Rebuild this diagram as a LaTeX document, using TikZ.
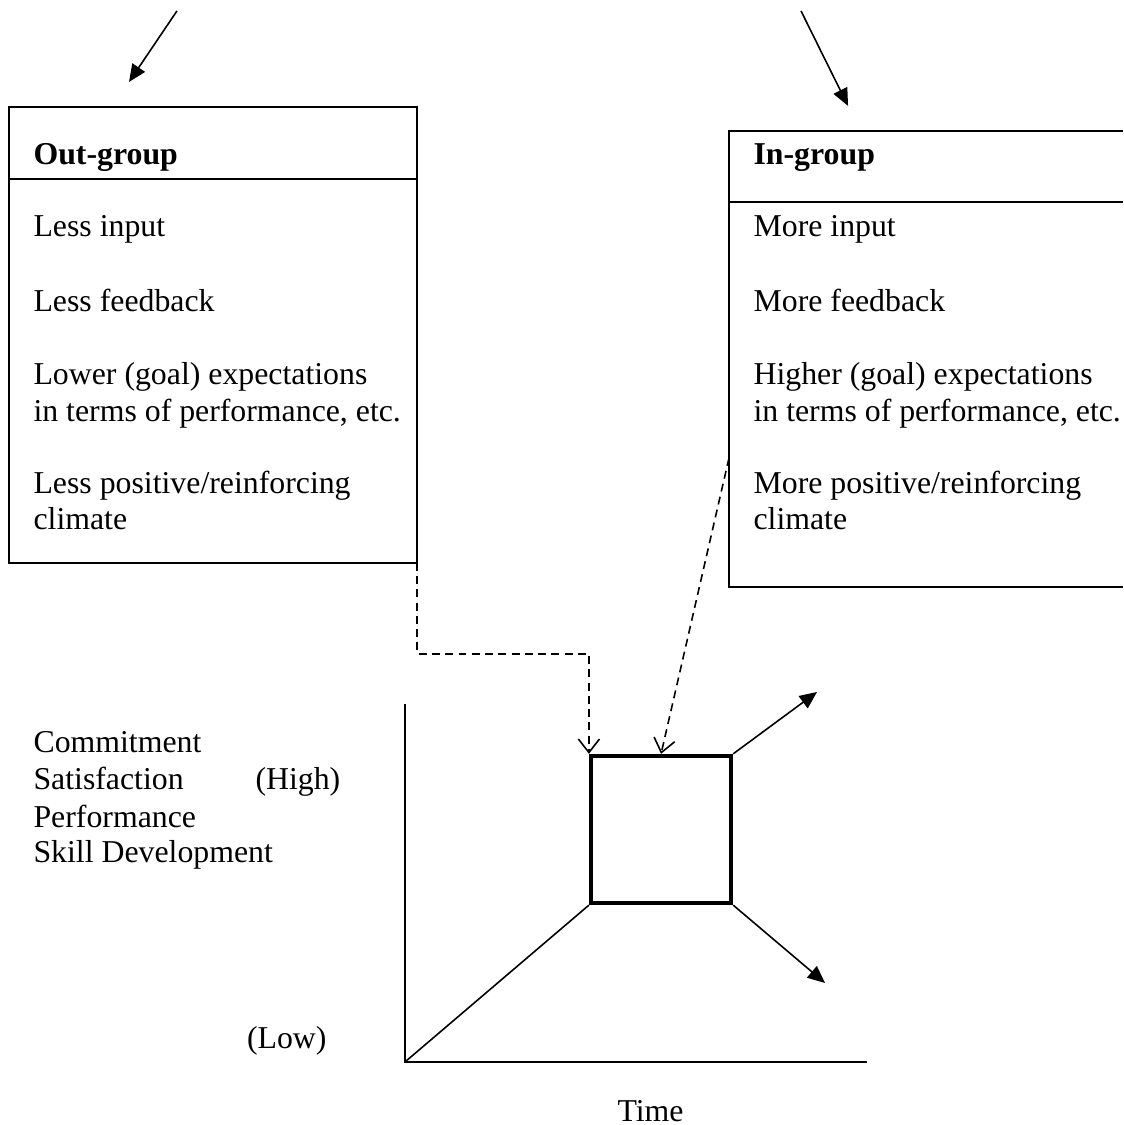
\documentclass[tikz,border=0pt]{standalone}
\usepackage{fontspec}
\setmainfont{Liberation Serif}
\usetikzlibrary{arrows.meta}
\tikzset{
	txt/.style={anchor=base west, inner sep=0pt, font=\fontsize{12pt}{14pt}\selectfont},
	hd/.style={txt, font=\fontsize{12pt}{14pt}\selectfont\bfseries},
	grpbox/.style={minimum width=5.412cm, minimum height=6.048cm, inner sep=0pt, outer sep=0pt, line width=0.8pt},
	solidarr/.style={line width=0.6pt, -{Triangle[length=2.3mm, width=2mm]}},
	dasharr/.style={line width=0.6pt, dash pattern=on 3pt off 2pt, -{Straight Barb[length=1.8mm, width=2.8mm]}},
}

\begin{document}
\begin{tikzpicture}
			%%%%% START %%%%%
			\useasboundingbox (0, 0) rectangle (14.894, 14.920);
			
			% out-group box
			\node[grpbox, draw] (outbox) at (2.825, 10.478) {};
			\draw[line width=0.8pt] ([yshift=2.069cm]outbox.west) -- ([yshift=2.069cm]outbox.east);
			\node[hd] (og0) at (0.438, 12.732) {Out-group};
			\node[txt] (og1) at (0.438, 11.778) {Less input};
			\node[txt] (og2) at (0.438, 10.783) {Less feedback};
			\node[txt] (og3) at (0.438, 9.815) {Lower (goal) expectations};
			\node[txt] (og3b) at (0.438, 9.324) {in terms of performance, etc.};
			\node[txt] (og4) at (0.438, 8.369) {Less positive/reinforcing};
			\node[txt] (og4b) at (0.438, 7.891) {climate};
			
			% in-group box, open on the right
			\node[grpbox, minimum width=5.226cm] (inbox) at (12.281, 10.159) {};
			\draw[line width=0.8pt] (inbox.north east) -- (inbox.north west) -- (inbox.south west) -- (inbox.south east);
			\draw[line width=0.8pt] ([yshift=2.083cm]inbox.west) -- ([yshift=2.083cm]inbox.east);
			\node[hd] (ig0) at (9.987, 12.732) {In-group};
			\node[txt] (ig1) at (9.987, 11.778) {More input};
			\node[txt] (ig2) at (9.987, 10.783) {More feedback};
			\node[txt] (ig3) at (9.987, 9.815) {Higher (goal) expectations};
			\node[txt] (ig3b) at (9.987, 9.324) {in terms of performance, etc.};
			\node[txt] (ig4) at (9.987, 8.369) {More positive/reinforcing};
			\node[txt] (ig4b) at (9.987, 7.891) {climate};
			
			% arrows at the top
			\coordinate (ltail) at (2.347, 14.775);
			\coordinate (ltip) at (1.711, 13.833);
			\coordinate (rtail) at (10.623, 14.775);
			\coordinate (rtip) at (11.247, 13.515);
			\draw[solidarr] (ltail) -- (ltip);
			\draw[solidarr] (rtail) -- (rtip);
			
			% graph
			\coordinate (ytop) at (5.371, 5.584);
			\coordinate (orig) at (5.371, 0.836);
			\coordinate (xend) at (11.499, 0.836);
			\draw[line width=0.7pt] (ytop) -- (orig) -- (xend);
			
			\node[draw, line width=1.6pt, minimum width=1.857cm, minimum height=1.95cm, inner sep=0pt] (sq) at (8.767, 3.919) {};
			\draw[line width=0.6pt] (orig) -- (sq.south west);
			
			\coordinate (uptip) at (10.836, 5.743);
			\coordinate (dntip) at (10.942, 1.883);
			\draw[solidarr] (sq.north east) -- (uptip);
			\draw[solidarr] (sq.south east) -- (dntip);
			
			\draw[dasharr] (outbox.south east) -- ++(0, -1.207) -| (sq.north west);
			\draw[dasharr] ([yshift=-1.313cm]inbox.west) -- (sq.north);
			
			% labels
			\node[txt] (commit) at (0.438, 4.934) {Commitment};
			\node[txt] (satis) at (0.438, 4.443) {Satisfaction};
			\node[txt] (perf) at (0.438, 3.952) {Performance};
			\node[txt] (skill) at (0.438, 3.475) {Skill Development};
			\node[txt] (high) at (3.382, 4.443) {(High)};
			\node[txt, anchor=base east] (low) at (4.337, 1.008) {(Low)};
			\node[txt] (time) at (8.183, 0.044) {Time};
			
			%%%%% END %%%%%
\end{tikzpicture}
\end{document}
